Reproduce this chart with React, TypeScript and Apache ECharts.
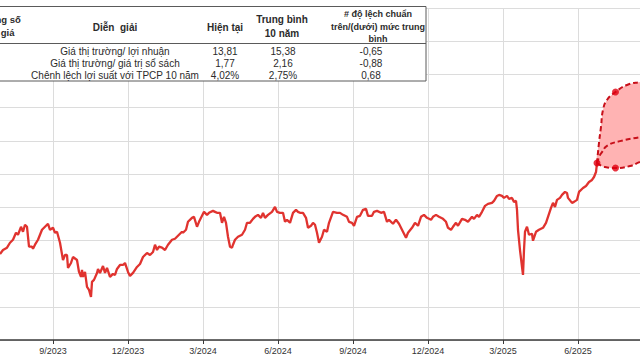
import React, { useEffect, useRef } from "react";
import * as echarts from "echarts";

// x = month index (9 = 9/2023, 12 = 12/2023, 15 = 3/2024 ...), y = P/E
const peHistory: [number, number][] = [
  [6.88, 10.59], [7.0, 10.71], [7.16, 10.78], [7.28, 10.93], [7.4, 11.02], [7.52, 11.23], [7.6, 11.17],
  [7.72, 11.41], [7.8, 11.26], [7.88, 11.47], [7.96, 11.41], [8.04, 10.81], [8.16, 10.81], [8.2, 10.75],
  [8.28, 10.87], [8.4, 11.02], [8.56, 11.32], [8.68, 11.41], [8.8, 11.5], [8.88, 11.32], [9.0, 11.38],
  [9.08, 11.23], [9.16, 11.26], [9.28, 10.93], [9.4, 10.41], [9.48, 10.56], [9.56, 10.56], [9.6, 10.17],
  [9.72, 10.32], [9.8, 10.5], [9.96, 10.41], [10.04, 10.05], [10.12, 9.9], [10.16, 10.11], [10.2, 9.9],
  [10.28, 10.05], [10.36, 9.6], [10.44, 9.51], [10.52, 9.3], [10.56, 9.75], [10.64, 9.81], [10.76, 10.02],
  [10.8, 10.14], [10.88, 10.02], [11.0, 10.23], [11.08, 10.02], [11.16, 10.17], [11.28, 9.9], [11.4, 9.99],
  [11.48, 9.96], [11.56, 10.14], [11.68, 10.26], [11.8, 10.26], [11.88, 10.32], [12.0, 10.05], [12.08, 9.93],
  [12.2, 10.02], [12.36, 10.2], [12.48, 10.29], [12.6, 10.5], [12.76, 10.62], [12.88, 10.56], [13.0, 10.65],
  [13.08, 10.87], [13.16, 10.71], [13.24, 10.81], [13.36, 10.78], [13.48, 10.71], [13.6, 10.87], [13.76, 11.02],
  [13.88, 11.05], [14.0, 11.14], [14.16, 11.26], [14.2, 11.23], [14.32, 11.32], [14.4, 11.56], [14.56, 11.68],
  [14.64, 11.71], [14.76, 11.41], [14.84, 11.56], [14.96, 11.74], [15.04, 11.86], [15.16, 11.77], [15.24, 11.83],
  [15.4, 11.89], [15.48, 11.86], [15.56, 11.83], [15.68, 11.83], [15.76, 11.53], [15.84, 11.71], [15.92, 11.53],
  [16.0, 11.11], [16.08, 10.81], [16.16, 10.78], [16.2, 10.87], [16.28, 11.02], [16.4, 11.11], [16.56, 11.17],
  [16.68, 11.32], [16.76, 11.53], [16.88, 11.53], [17.0, 11.65], [17.08, 11.71], [17.2, 11.77], [17.32, 11.68],
  [17.4, 11.83], [17.48, 11.68], [17.6, 11.77], [17.76, 11.86], [17.88, 12.01], [17.96, 11.86], [18.08, 11.83],
  [18.2, 11.83], [18.28, 11.56], [18.36, 11.62], [18.48, 11.53], [18.6, 11.83], [18.72, 11.92], [18.8, 11.86],
  [18.88, 11.83], [19.0, 11.83], [19.12, 11.68], [19.2, 11.38], [19.32, 11.44], [19.4, 11.53], [19.48, 11.47],
  [19.56, 11.23], [19.64, 10.93], [19.76, 11.11], [19.84, 11.32], [19.96, 11.26], [20.04, 11.53], [20.2, 11.86],
  [20.36, 11.83], [20.48, 11.83], [20.6, 11.77], [20.76, 11.71], [20.84, 11.56], [20.96, 11.53], [21.04, 11.44],
  [21.16, 11.71], [21.28, 11.74], [21.4, 11.92], [21.52, 11.95], [21.6, 11.74], [21.76, 11.74], [21.84, 11.86],
  [21.96, 11.89], [22.12, 11.83], [22.24, 11.86], [22.36, 11.56], [22.44, 11.62], [22.6, 11.5], [22.72, 11.62],
  [22.84, 11.5], [23.0, 11.26], [23.12, 11.08], [23.2, 11.23], [23.36, 11.38], [23.48, 11.53], [23.6, 11.44],
  [23.72, 11.71], [23.84, 11.77], [23.96, 11.68], [24.12, 11.62], [24.2, 11.71], [24.32, 11.77], [24.44, 11.71],
  [24.6, 11.65], [24.72, 11.56], [24.8, 11.38], [24.92, 11.32], [25.0, 11.41], [25.12, 11.53], [25.2, 11.44],
  [25.36, 11.65], [25.48, 11.62], [25.6, 11.56], [25.76, 11.71], [25.84, 11.65], [25.96, 11.77], [26.04, 11.71],
  [26.16, 11.86], [26.28, 12.04], [26.4, 12.1], [26.56, 12.13], [26.64, 12.19], [26.76, 12.34], [26.84, 12.37],
  [26.96, 12.34], [27.04, 12.28], [27.16, 12.34], [27.24, 12.25], [27.36, 12.28], [27.44, 12.16], [27.52, 12.19],
  [27.56, 11.92], [27.6, 11.32], [27.68, 10.71], [27.76, 10.2], [27.8, 9.96], [27.84, 10.71], [27.88, 11.26],
  [27.96, 11.41], [28.04, 11.17], [28.16, 11.2], [28.2, 10.99], [28.32, 11.26], [28.44, 11.32], [28.6, 11.38],
  [28.72, 11.53], [28.8, 11.71], [28.92, 11.98], [29.0, 12.13], [29.08, 12.01], [29.16, 12.22], [29.28, 12.28],
  [29.36, 12.37], [29.48, 12.46], [29.56, 12.43], [29.6, 12.28], [29.76, 12.13], [29.84, 12.16], [29.96, 12.22],
  [30.04, 12.46], [30.2, 12.58], [30.32, 12.64], [30.44, 12.76], [30.56, 12.82], [30.64, 12.91], [30.72, 13.06],
  [30.76, 13.33],
];

const forecastUpper: [number, number][] = [
  [30.76, 13.33], [30.84, 13.94], [30.92, 14.42], [31.0, 14.93], [31.16, 15.23], [31.5, 15.47],
  [31.96, 15.68], [32.48, 15.77], [33.0, 15.82],
];
const forecastMid: [number, number][] = [
  [30.76, 13.33], [30.88, 13.57], [30.96, 13.66], [31.16, 13.85], [31.68, 13.99], [32.48, 14.11], [33.0, 14.18],
];
const forecastLower: [number, number][] = [
  [30.76, 13.33], [31.08, 13.21], [31.5, 13.18], [32.08, 13.24], [32.48, 13.36], [33.0, 13.46],
];
const forecastMarkers: [number, number][] = [
  [30.76, 13.33], [31.5, 15.47], [31.5, 13.18],
];

const headerCols = ["Diễn  giải", "Hiện tại", "Trung bình\n10 năm", "# độ lệch chuẩn\ntrên/(dưới) mức trung\nbình"];
const firstColHeader = "Thông số\nđịnh giá";
const rowLabels = [
  "Giá thị trường/ lợi nhuận",
  "Giá thị trường/ giá trị sổ sách",
  "Chênh lệch lợi suất với TPCP 10 năm",
];
const currentVals = ["13,81", "1,77", "4,02%"];
const avgVals = ["15,38", "2,16", "2,75%"];
const sdVals = ["-0,65", "-0,88", "0,68"];

const OFF = 22; // chart div is shifted left by this many px

function monthLabel(v: number) {
  const m = Math.round(v);
  const month = ((m - 1) % 12) + 1;
  const year = 2023 + Math.floor((m - 1) / 12);
  return month + "/" + year;
}

export default function App() {
  const ref = useRef<HTMLDivElement>(null);
  useEffect(() => {
    document.body.style.margin = "0";
    if (!ref.current) return;
    const chart = echarts.init(ref.current, undefined, { renderer: "svg" });
    const FF = "'Liberation Sans', Arial, sans-serif";
    const txt = (text: string, x: number, y: number, opts: any = {}) => ({
      type: "text",
      x: x + OFF,
      y,
      z: 101,
      style: {
        text,
        fontSize: opts.fontSize ?? 10,
        fontWeight: opts.bold ? "bold" : "normal",
        fontFamily: FF,
        fill: opts.color ?? "#2b2b2b",
        align: opts.align ?? "center",
        verticalAlign: "middle",
        lineHeight: opts.lineHeight ?? 12.5,
      },
    });
    const rowsY = [51, 63, 75];
    const graphics: any[] = [
      {
        type: "rect",
        z: 100,
        shape: { x: -40 + OFF, y: 6.5, width: 466, height: 74.5 },
        style: { fill: "#ffffff", stroke: "#5a5a5a", lineWidth: 1 },
      },
      {
        type: "line",
        z: 101,
        shape: { x1: -40 + OFF, y1: 43.5, x2: 426 + OFF, y2: 43.5 },
        style: { stroke: "#5a5a5a", lineWidth: 1 },
      },
      txt(firstColHeader, -22, 25.5, { bold: true, align: "left", fontSize: 9.5, lineHeight: 13 }),
      txt(headerCols[0], 115, 27, { bold: true, fontSize: 10 }),
      txt(headerCols[1], 225, 27, { bold: true, fontSize: 10 }),
      txt(headerCols[2], 282, 26, { bold: true, fontSize: 10, lineHeight: 14 }),
      txt(headerCols[3], 378, 26.5, { bold: true, fontSize: 9, lineHeight: 12.5 }),
    ];
    rowLabels.forEach((r, i) => {
      graphics.push(txt(r, 115, rowsY[i]));
      graphics.push(txt(currentVals[i], 225, rowsY[i]));
      graphics.push(txt(avgVals[i], 283, rowsY[i]));
      graphics.push(txt(sdVals[i], 371, rowsY[i]));
    });

    const bandPoly = [...forecastUpper, ...forecastLower.slice(1).reverse()];

    chart.setOption({
      animation: false,
      grid: { left: 0, right: 0, top: 8, bottom: 20, containLabel: false },
      xAxis: {
        type: "value",
        min: 6,
        max: 33,
        interval: 3,
        axisLine: { show: true, lineStyle: { color: "#3a3a3a", width: 1.5 } },
        axisTick: { show: true, length: 4, lineStyle: { color: "#3a3a3a" } },
        axisLabel: {
          show: true,
          showMinLabel: false,
          showMaxLabel: false,
          formatter: (v: number) => monthLabel(v),
          fontSize: 9,
          color: "#333",
          fontFamily: FF,
          margin: 6,
        },
        splitLine: { show: true, lineStyle: { color: "#dcdcdc", width: 1 } },
      },
      yAxis: {
        type: "value",
        min: 8,
        max: 18,
        interval: 1,
        axisLine: { show: false },
        axisTick: { show: false },
        axisLabel: { show: false },
        splitLine: { show: true, lineStyle: { color: "#dcdcdc", width: 1 } },
      },
      graphic: graphics,
      series: [
        {
          type: "custom",
          z: 1,
          silent: true,
          data: [forecastUpper[0]],
          renderItem: (_p: any, api: any) => ({
            type: "polygon",
            shape: { points: bandPoly.map((p) => api.coord(p)), smooth: 0.35 },
            style: { fill: "#FFB3B3" },
          }),
        },
        {
          type: "line",
          z: 3,
          data: peHistory,
          symbol: "none",
          lineStyle: { color: "#E0332F", width: 2.3 },
        },
        {
          type: "line",
          z: 4,
          data: forecastUpper,
          smooth: 0.5,
          symbol: "none",
          lineStyle: { color: "#C8101A", width: 2, type: [5, 3] },
        },
        {
          type: "line",
          z: 4,
          data: forecastMid,
          smooth: 0.5,
          symbol: "none",
          lineStyle: { color: "#C8101A", width: 2, type: [5, 3] },
        },
        {
          type: "line",
          z: 4,
          data: forecastLower,
          smooth: 0.5,
          symbol: "none",
          lineStyle: { color: "#C8101A", width: 2, type: [5, 3] },
        },
        {
          type: "scatter",
          z: 5,
          data: forecastMarkers,
          symbolSize: 7,
          itemStyle: { color: "#E00010" },
        },
      ],
    });
    return () => chart.dispose();
  }, []);
  return (
    <div style={{ position: "fixed", left: 0, top: 0, width: 640, height: 360, overflow: "hidden", background: "#fff" }}>
      <div ref={ref} style={{ position: "absolute", left: -OFF, top: 0, width: 640 + OFF + 13, height: 360 }} />
    </div>
  );
}
